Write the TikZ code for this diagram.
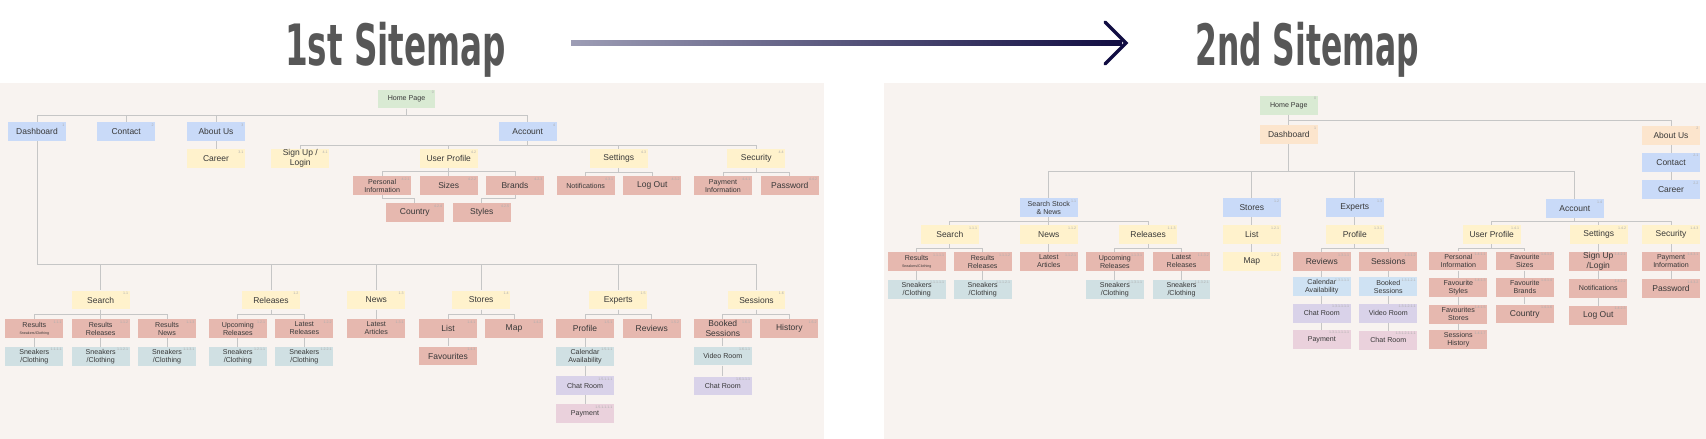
\documentclass[tikz,border=0pt]{standalone}
\usepackage{fontspec}
\setmainfont{Liberation Sans}
\newfontfamily\titlefont{DejaVu Sans Condensed}
\usetikzlibrary{calc}
\definecolor{panel}{HTML}{F8F3F0}
\definecolor{txt}{HTML}{383838}
\definecolor{numc}{HTML}{ADADAD}
\definecolor{linec}{HTML}{C6C6C6}
\definecolor{ttlc}{HTML}{575757}
\definecolor{arrL}{HTML}{9D9DB5}
\definecolor{arrR}{HTML}{110D42}
\definecolor{cgrn}{HTML}{D9EAD3}
\definecolor{cblu}{HTML}{C9DAF8}
\definecolor{cyel}{HTML}{FFF2CC}
\definecolor{csal}{HTML}{E6B8AF}
\definecolor{ccyn}{HTML}{D0E0E3}
\definecolor{cpur}{HTML}{D9D2E9}
\definecolor{cmag}{HTML}{EAD1DC}
\definecolor{corg}{HTML}{FCE5CD}
\definecolor{clbl}{HTML}{CFE2F3}
\begin{document}
\begin{tikzpicture}[x=1pt,y=-1pt,
  bx/.style={minimum width=57.7pt,minimum height=18.7pt,inner sep=0pt,align=center,text=txt,font=\fontsize{8.5}{9.5}\selectfont},
  sm/.style={font=\fontsize{7.1}{8}\selectfont},
  num/.style={anchor=north east,inner sep=1.5pt,text=numc,font=\fontsize{3.6}{4}\selectfont},
  grn/.style={bx,fill=cgrn},
  blu/.style={bx,fill=cblu},
  yel/.style={bx,fill=cyel},
  sal/.style={bx,fill=csal},
  cyn/.style={bx,fill=ccyn},
  pur/.style={bx,fill=cpur},
  mag/.style={bx,fill=cmag},
  org/.style={bx,fill=corg},
  lbl/.style={bx,fill=clbl},
  ln/.style={draw=linec,line width=0.8pt},
  ttl/.style={anchor=base west,inner sep=0pt,text=ttlc,font=\titlefont\bfseries\fontsize{57}{57}\selectfont}]
\useasboundingbox (0,0) rectangle (1706,439);
\fill[panel] (0,83) rectangle (824,439);
\fill[panel] (884,83) rectangle (1706,439);
\node[ttl] (t1) at (285,65) {\resizebox{221pt}{\height}{1st Sitemap}};
\node[ttl] (t2) at (1195,65) {\resizebox{224pt}{\height}{2nd Sitemap}};
\coordinate (a1) at (571,43);
\coordinate (a2) at (1126,43);
\shade[left color=arrL,right color=arrR] ($(a1)+(0,-2.5)$) rectangle ($(a2)+(-4,2.5)$);
\draw[arrR,line width=3.4pt,line cap=round,line join=miter] ($(a2)+(-21,-21)$) .. controls ($(a2)+(-9,-9)$) .. (a2) .. controls ($(a2)+(-9,9)$) .. ($(a2)+(-21,21)$);
\node[grn,sm,label={[num]north east:0}] (home) at (406.5,99) {Home Page};
\node[blu,label={[num]north east:1}] (dash) at (37,131.5) {Dashboard};
\node[blu,label={[num]north east:2}] (cont) at (126.2,131.5) {Contact};
\node[blu,label={[num]north east:3}] (about) at (216,131.5) {About Us};
\node[yel,label={[num]north east:3.1}] (career) at (216,158.5) {Career};
\node[blu,label={[num]north east:4}] (acct) at (527.7,131.5) {Account};
\node[yel,label={[num]north east:4.1}] (signup) at (300.3,158.5) {Sign Up /\\Login};
\node[yel,label={[num]north east:4.2}] (uprof) at (448.7,158.5) {User Profile};
\node[yel,label={[num]north east:4.3}] (sett) at (618.8,158.5) {Settings};
\node[yel,label={[num]north east:4.4}] (secu) at (756.3,158.5) {Security};
\node[sal,sm,label={[num]north east:4.2.1}] (pinfo) at (382.2,185.6) {Personal\\Information};
\node[sal,label={[num]north east:4.2.2}] (sizes) at (448.7,185.6) {Sizes};
\node[sal,label={[num]north east:4.2.3}] (brands) at (515,185.6) {Brands};
\node[sal,label={[num]north east:4.2.4}] (country) at (414.8,212.5) {Country};
\node[sal,label={[num]north east:4.2.5}] (styles) at (481.7,212.5) {Styles};
\node[sal,sm,label={[num]north east:4.3.1}] (notif) at (585.7,185.8) {Notifications};
\node[sal,label={[num]north east:4.3.2}] (logout) at (652.3,185.8) {Log Out};
\node[sal,sm,label={[num]north east:4.4.1}] (payinfo) at (723,185.8) {Payment\\Information};
\node[sal,label={[num]north east:4.4.2}] (passw) at (789.8,185.8) {Password};
\node[yel,label={[num]north east:1.1}] (search) at (100.7,300) {Search};
\node[yel,label={[num]north east:1.2}] (rel) at (271,300) {Releases};
\node[yel,label={[num]north east:1.3}] (news) at (376.3,300) {News};
\node[yel,label={[num]north east:1.4}] (stores) at (481.2,300) {Stores};
\node[yel,label={[num]north east:1.5}] (experts) at (618.2,300) {Experts};
\node[yel,label={[num]north east:1.6}] (sess) at (756.5,300) {Sessions};
\node[sal,sm,label={[num]north east:1.1.1}] (res1) at (34.3,328.5) {Results\\[-1pt]{\fontsize{3.6}{4}\selectfont Sneakers/Clothing}};
\node[sal,sm,label={[num]north east:1.1.2}] (res2) at (100.7,328.5) {Results\\Releases};
\node[sal,sm,label={[num]north east:1.1.3}] (res3) at (167,328.5) {Results\\News};
\node[cyn,sm,label={[num]north east:1.1.1.1}] (sn1) at (34.3,356.3) {Sneakers\\/Clothing};
\node[cyn,sm,label={[num]north east:1.1.2.1}] (sn2) at (100.7,356.3) {Sneakers\\/Clothing};
\node[cyn,sm,label={[num]north east:1.1.3.1}] (sn3) at (167,356.3) {Sneakers\\/Clothing};
\node[sal,sm,label={[num]north east:1.2.1}] (upc) at (237.8,328.5) {Upcoming\\Releases};
\node[sal,sm,label={[num]north east:1.2.2}] (latest) at (304.3,328.5) {Latest\\Releases};
\node[cyn,sm,label={[num]north east:1.2.1.1}] (sn4) at (237.8,356.3) {Sneakers\\/Clothing};
\node[cyn,sm,label={[num]north east:1.2.2.1}] (sn5) at (304.3,356.3) {Sneakers\\/Clothing};
\node[sal,sm,label={[num]north east:1.3.1}] (latart) at (376.3,328.5) {Latest\\Articles};
\node[sal,label={[num]north east:1.4.1}] (list) at (448,328.5) {List};
\node[sal,label={[num]north east:1.4.2}] (map) at (514,328.5) {Map};
\node[sal,label={[num]north east:1.4.3}] (fav) at (448,356) {Favourites};
\node[sal,label={[num]north east:1.5.1}] (prof) at (585,328.5) {Profile};
\node[sal,label={[num]north east:1.5.2}] (rev) at (651.7,328.5) {Reviews};
\node[cyn,sm,label={[num]north east:1.5.1.1}] (cal) at (585,356.2) {Calendar\\Availability};
\node[pur,sm,label={[num]north east:1.5.1.1.1}] (chat1) at (585,385.5) {Chat Room};
\node[mag,sm,label={[num]north east:1.5.1.1.1.1}] (pay) at (585,413.8) {Payment};
\node[sal,label={[num]north east:1.6.1}] (booked) at (722.8,328.5) {Booked\\Sessions};
\node[sal,label={[num]north east:1.6.2}] (hist) at (789.3,328.5) {History};
\node[cyn,sm,label={[num]north east:1.6.1.1}] (video) at (722.8,356) {Video Room};
\node[pur,sm,label={[num]north east:1.6.1.1.1}] (chat2) at (722.8,386) {Chat Room};
\draw[ln] (home.south) -- ++(0,6.7) -| (dash.north);
\draw[ln] (home.south) -- ++(0,6.7) -| (cont.north);
\draw[ln] (home.south) -- ++(0,6.7) -| (about.north);
\draw[ln] (home.south) -- ++(0,6.7) -| (acct.north);
\draw[ln] (about) -- (career);
\draw[ln] (acct.south) -- ++(0,4.2) -| (signup.north);
\draw[ln] (acct.south) -- ++(0,4.2) -| (uprof.north);
\draw[ln] (acct.south) -- ++(0,4.2) -| (sett.north);
\draw[ln] (acct.south) -- ++(0,4.2) -| (secu.north);
\draw[ln] (uprof.south) -- ++(0,3.2) -| (pinfo.north);
\draw[ln] (uprof.south) -- ++(0,3.2) -| (sizes.north);
\draw[ln] (uprof.south) -- ++(0,3.2) -| (brands.north);
\draw[ln] (pinfo.south) -- ++(0,3.2) -| (country.north);
\draw[ln] (brands.south) -- ++(0,3.2) -| (styles.north);
\draw[ln] (sett.south) -- ++(0,4.2) -| (notif.north);
\draw[ln] (sett.south) -- ++(0,4.2) -| (logout.north);
\draw[ln] (secu.south) -- ++(0,4.2) -| (payinfo.north);
\draw[ln] (secu.south) -- ++(0,4.2) -| (passw.north);
\draw[ln] (dash.south) -- ++(0,123.4) -| (search.north);
\draw[ln] (dash.south) -- ++(0,123.4) -| (rel.north);
\draw[ln] (dash.south) -- ++(0,123.4) -| (news.north);
\draw[ln] (dash.south) -- ++(0,123.4) -| (stores.north);
\draw[ln] (dash.south) -- ++(0,123.4) -| (experts.north);
\draw[ln] (dash.south) -- ++(0,123.4) -| (sess.north);
\draw[ln] (search.south) -- ++(0,5) -| (res1.north);
\draw[ln] (search.south) -- ++(0,5) -| (res2.north);
\draw[ln] (search.south) -- ++(0,5) -| (res3.north);
\draw[ln] (res1) -- (sn1);
\draw[ln] (res2) -- (sn2);
\draw[ln] (res3) -- (sn3);
\draw[ln] (rel.south) -- ++(0,5) -| (upc.north);
\draw[ln] (rel.south) -- ++(0,5) -| (latest.north);
\draw[ln] (upc) -- (sn4);
\draw[ln] (latest) -- (sn5);
\draw[ln] (news) -- (latart);
\draw[ln] (stores.south) -- ++(0,5) -| (list.north);
\draw[ln] (stores.south) -- ++(0,5) -| (map.north);
\draw[ln] (list) -- (fav);
\draw[ln] (experts.south) -- ++(0,5) -| (prof.north);
\draw[ln] (experts.south) -- ++(0,5) -| (rev.north);
\draw[ln] (prof) -- (cal);
\draw[ln] (cal) -- (chat1);
\draw[ln] (chat1) -- (pay);
\draw[ln] (sess.south) -- ++(0,5) -| (booked.north);
\draw[ln] (sess.south) -- ++(0,5) -| (hist.north);
\draw[ln] (booked) -- (video);
\draw[ln] (video) -- (chat2);
\node[grn,sm,label={[num]north east:0}] (home2) at (1288.8,105.3) {Home Page};
\node[org,label={[num]north east:1}] (dash2) at (1288.8,134.8) {Dashboard};
\node[org,label={[num]north east:2}] (about2) at (1671,135.2) {About Us};
\node[blu,label={[num]north east:2.1}] (contact2) at (1671,162.3) {Contact};
\node[blu,label={[num]north east:2.2}] (career2) at (1671,189.8) {Career};
\node[blu,sm,label={[num]north east:1.1}] (ssn) at (1048.8,207.8) {Search Stock\\\& News};
\node[blu,label={[num]north east:1.2}] (stores2) at (1251.8,207.8) {Stores};
\node[blu,label={[num]north east:1.3}] (experts2) at (1354.8,207.8) {Experts};
\node[blu,label={[num]north east:1.4}] (acct2) at (1574.8,208.8) {Account};
\node[yel,label={[num]north east:1.1.1}] (search2) at (949.8,234.5) {Search};
\node[yel,label={[num]north east:1.1.2}] (news2) at (1048.8,234.5) {News};
\node[yel,label={[num]north east:1.1.3}] (rel2) at (1148.2,234.5) {Releases};
\node[yel,label={[num]north east:1.2.1}] (list2) at (1251.8,234.5) {List};
\node[yel,label={[num]north east:1.2.2}] (map2) at (1251.8,261.7) {Map};
\node[yel,label={[num]north east:1.3.1}] (prof2) at (1354.8,234.5) {Profile};
\node[yel,label={[num]north east:1.4.1}] (uprof2) at (1491.7,234.5) {User Profile};
\node[yel,label={[num]north east:1.4.2}] (sett2) at (1598.7,234.5) {Settings};
\node[yel,label={[num]north east:1.4.3}] (secu2) at (1671,234.5) {Security};
\node[sal,sm,label={[num]north east:1.1.1.1}] (res1b) at (916.7,261.5) {Results\\[-1pt]{\fontsize{3.6}{4}\selectfont Sneakers/Clothing}};
\node[sal,sm,label={[num]north east:1.1.1.2}] (res2b) at (982.7,261.5) {Results\\Releases};
\node[cyn,sm,label={[num]north east:1.1.1.1.1}] (sn1b) at (916.7,289.3) {Sneakers\\/Clothing};
\node[cyn,sm,label={[num]north east:1.1.1.2.1}] (sn2b) at (982.7,289.3) {Sneakers\\/Clothing};
\node[sal,sm,label={[num]north east:1.1.2.1}] (latart2) at (1048.8,261.5) {Latest\\Articles};
\node[sal,sm,label={[num]north east:1.1.3.1}] (upc2) at (1114.8,261.5) {Upcoming\\Releases};
\node[sal,sm,label={[num]north east:1.1.3.2}] (latest2) at (1181.5,261.5) {Latest\\Releases};
\node[cyn,sm,label={[num]north east:1.1.3.1.1}] (sn3b) at (1114.8,289.3) {Sneakers\\/Clothing};
\node[cyn,sm,label={[num]north east:1.1.3.2.1}] (sn4b) at (1181.5,289.3) {Sneakers\\/Clothing};
\node[sal,label={[num]north east:1.3.1.1}] (rev2) at (1321.8,261.5) {Reviews};
\node[sal,label={[num]north east:1.3.1.2}] (sess2) at (1388.3,261.5) {Sessions};
\node[lbl,sm,label={[num]north east:1.3.1.1.1}] (cal2) at (1321.8,286.7) {Calendar\\Availability};
\node[lbl,sm,label={[num]north east:1.3.1.2.1}] (booked2) at (1388.3,286.7) {Booked\\Sessions};
\node[pur,sm,label={[num]north east:1.3.1.1.1.1}] (chat1b) at (1321.8,313.3) {Chat Room};
\node[pur,sm,label={[num]north east:1.3.1.2.1.1}] (video2) at (1388.3,313.3) {Video Room};
\node[mag,sm,label={[num]north east:1.3.1.1.1.1.1}] (pay2) at (1321.8,339.3) {Payment};
\node[mag,sm,label={[num]north east:1.3.1.2.1.1.1}] (chat2b) at (1388.3,340.2) {Chat Room};
\node[sal,sm,label={[num]north east:1.4.1.1}] (pinfo2) at (1458.3,261) {Personal\\Information};
\node[sal,sm,label={[num]north east:1.4.1.2}] (fsizes) at (1524.8,261) {Favourite\\Sizes};
\node[sal,sm,label={[num]north east:1.4.1.3}] (fstyles) at (1458.3,287.2) {Favourite\\Styles};
\node[sal,sm,label={[num]north east:1.4.1.4}] (fbrands) at (1524.8,287.2) {Favourite\\Brands};
\node[sal,sm,label={[num]north east:1.4.1.5}] (fstores) at (1458.3,314.2) {Favourites\\Stores};
\node[sal,label={[num]north east:1.4.1.6}] (country2) at (1524.8,314) {Country};
\node[sal,sm,label={[num]north east:1.4.1.7}] (shist) at (1458.3,339.5) {Sessions\\History};
\node[sal,label={[num]north east:1.4.2.1}] (signup2) at (1598.3,261.2) {Sign Up\\/Login};
\node[sal,sm,label={[num]north east:1.4.2.2}] (notif2) at (1598.3,288.3) {Notifications};
\node[sal,label={[num]north east:1.4.2.3}] (logout2) at (1598.3,315.3) {Log Out};
\node[sal,sm,label={[num]north east:1.4.3.1}] (payinfo2) at (1671,261.3) {Payment\\Information};
\node[sal,label={[num]north east:1.4.3.2}] (passw2) at (1671,288.5) {Password};
\draw[ln] (home2) -- (dash2);
\draw[ln] (home2.south) -- ++(0,5.3) -| (about2.north);
\draw[ln] (about2) -- (contact2);
\draw[ln] (contact2) -- (career2);
\draw[ln] (dash2.south) -- ++(0,27.5) -| (ssn.north);
\draw[ln] (dash2.south) -- ++(0,27.5) -| (stores2.north);
\draw[ln] (dash2.south) -- ++(0,27.5) -| (experts2.north);
\draw[ln] (dash2.south) -- ++(0,27.5) -| (acct2.north);
\draw[ln] (ssn.south) -- ++(0,4.2) -| (search2.north);
\draw[ln] (ssn.south) -- ++(0,4.2) -| (news2.north);
\draw[ln] (ssn.south) -- ++(0,4.2) -| (rel2.north);
\draw[ln] (stores2) -- (list2);
\draw[ln] (list2) -- (map2);
\draw[ln] (experts2) -- (prof2);
\draw[ln] (acct2.south) -- ++(0,3.2) -| (uprof2.north);
\draw[ln] (acct2.south) -- ++(0,3.2) -| (sett2.north);
\draw[ln] (acct2.south) -- ++(0,3.2) -| (secu2.north);
\draw[ln] (search2.south) -- ++(0,4.2) -| (res1b.north);
\draw[ln] (search2.south) -- ++(0,4.2) -| (res2b.north);
\draw[ln] (res1b) -- (sn1b);
\draw[ln] (res2b) -- (sn2b);
\draw[ln] (news2) -- (latart2);
\draw[ln] (rel2.south) -- ++(0,4.2) -| (upc2.north);
\draw[ln] (rel2.south) -- ++(0,4.2) -| (latest2.north);
\draw[ln] (upc2) -- (sn3b);
\draw[ln] (latest2) -- (sn4b);
\draw[ln] (prof2.south) -- ++(0,4.2) -| (rev2.north);
\draw[ln] (prof2.south) -- ++(0,4.2) -| (sess2.north);
\draw[ln] (rev2) -- (cal2);
\draw[ln] (cal2) -- (chat1b);
\draw[ln] (chat1b) -- (pay2);
\draw[ln] (sess2) -- (booked2);
\draw[ln] (booked2) -- (video2);
\draw[ln] (video2) -- (chat2b);
\draw[ln] (uprof2.south) -- ++(0,4.2) -| (pinfo2.north);
\draw[ln] (uprof2.south) -- ++(0,4.2) -| (fsizes.north);
\draw[ln] (pinfo2) -- (fstyles);
\draw[ln] (fstyles) -- (fstores);
\draw[ln] (fstores) -- (shist);
\draw[ln] (fsizes) -- (fbrands);
\draw[ln] (fbrands) -- (country2);
\draw[ln] (sett2) -- (signup2);
\draw[ln] (signup2) -- (notif2);
\draw[ln] (notif2) -- (logout2);
\draw[ln] (secu2) -- (payinfo2);
\draw[ln] (payinfo2) -- (passw2);
\end{tikzpicture}
\end{document}
